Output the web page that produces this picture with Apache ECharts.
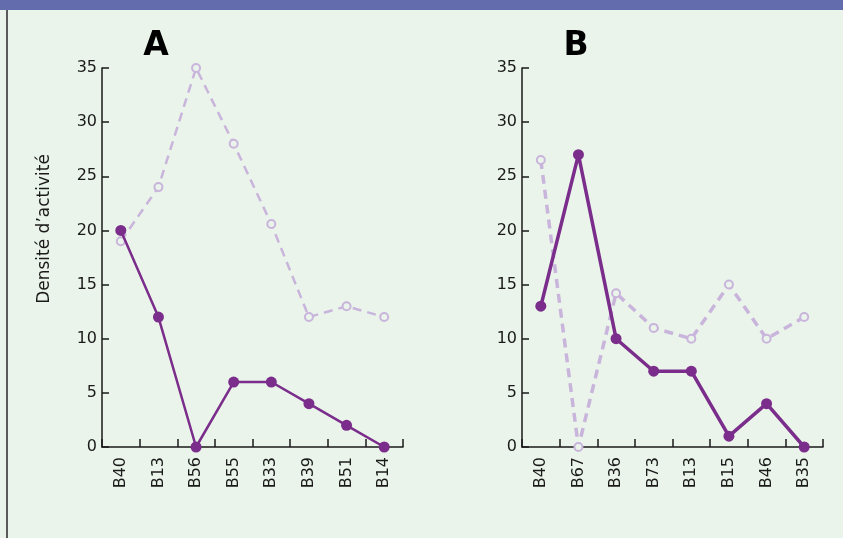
<!DOCTYPE html>
<html>
<head>
<meta charset="utf-8">
<script src="https://cdn.jsdelivr.net/npm/echarts@6/dist/echarts.min.js"></script>
<style>html,body{margin:0;padding:0;}#c{width:843px;height:538px;}</style>
</head>
<body>
<div id="c"></div>
<script>
const categoriesA = ['B40','B13','B56','B55','B33','B39','B51','B14'];
const solidA = [20, 12, 0, 6, 6, 4, 2, 0];
const dashedA = [19, 24, 35, 28, 20.6, 12, 13, 12];
const categoriesB = ['B40','B67','B36','B73','B13','B15','B46','B35'];
const solidB = [13, 27, 10, 7, 7, 1, 4, 0];
const dashedB = [26.5, 0, 14.2, 11, 10, 15, 10, 12];
const yTicks = [0, 5, 10, 15, 20, 25, 30, 35];
const titles = ['A', 'B'];
const yName = 'Densité d’activité';

const BG = '#EAF4EA';
const DARK = '#7B2D8B';
const LIGHT = '#C9B5DC';
const FONT = '"DejaVu Sans", sans-serif';

const chart = echarts.init(document.getElementById('c'), null, {renderer: 'canvas'});

function xAxis(cats, idx) {
  return {
    type: 'category', gridIndex: idx, data: cats, boundaryGap: true,
    axisLine: {show: true, lineStyle: {color: '#1a1a1a', width: 1.5}},
    axisTick: {show: true, inside: true, length: 8, lineStyle: {color: '#1a1a1a', width: 1.5}},
    axisLabel: {rotate: 90, margin: 10, fontSize: 16, color: '#1a1a1a', fontFamily: FONT},
    splitLine: {show: false}
  };
}
function yAxis(idx) {
  return {
    type: 'value', gridIndex: idx, min: yTicks[0], max: yTicks[yTicks.length - 1], interval: 5,
    axisLine: {show: true, lineStyle: {color: '#1a1a1a', width: 1.5}},
    axisTick: {show: true, inside: true, length: 7, lineStyle: {color: '#1a1a1a', width: 1.5}},
    axisLabel: {margin: 5, fontSize: 16, color: '#1a1a1a', fontFamily: FONT},
    splitLine: {show: false}
  };
}
function solid(data, idx, w) {
  return {
    type: 'line', xAxisIndex: idx, yAxisIndex: idx, data: data, z: 3,
    symbol: 'circle', symbolSize: 11,
    lineStyle: {color: DARK, width: w},
    itemStyle: {color: DARK}
  };
}
function dashed(data, idx, w) {
  return {
    type: 'line', xAxisIndex: idx, yAxisIndex: idx, data: data, z: 2,
    symbol: 'circle', symbolSize: 8,
    lineStyle: {color: LIGHT, width: w, type: [9, 6]},
    itemStyle: {color: BG, borderColor: LIGHT, borderWidth: 2}
  };
}

chart.setOption({
  backgroundColor: BG,
  animation: false,
  title: [
    {text: titles[0], left: 151, top: 25, textAlign: 'center',
     textStyle: {fontSize: 33, fontWeight: 900, color: '#000', fontFamily: '"DejaVu Sans", sans-serif'}},
    {text: titles[1], left: 571, top: 25, textAlign: 'center',
     textStyle: {fontSize: 33, fontWeight: 900, color: '#000', fontFamily: '"DejaVu Sans", sans-serif'}}
  ],
  graphic: [
    {type: 'rect', shape: {x: 0, y: 0, width: 843, height: 10}, style: {fill: '#636DAD'}, silent: true},
    {type: 'rect', shape: {x: 6, y: 10, width: 2, height: 528}, style: {fill: '#5a5a5a'}, silent: true},
    {type: 'text', x: 45, y: 229, rotation: Math.PI / 2,
     style: {text: yName, fontSize: 17, fill: '#1a1a1a', fontFamily: FONT, align: 'center', verticalAlign: 'middle'}}
  ],
  grid: [
    {left: 102, right: 440, top: 68, bottom: 91, containLabel: false},
    {left: 522, right: 20, top: 68, bottom: 91, containLabel: false}
  ],
  xAxis: [xAxis(categoriesA, 0), xAxis(categoriesB, 1)],
  yAxis: [yAxis(0), yAxis(1)],
  series: [
    dashed(dashedA, 0, 2.5),
    solid(solidA, 0, 2.5),
    dashed(dashedB, 1, 3.5),
    solid(solidB, 1, 3.5)
  ]
});
</script>
</body>
</html>
